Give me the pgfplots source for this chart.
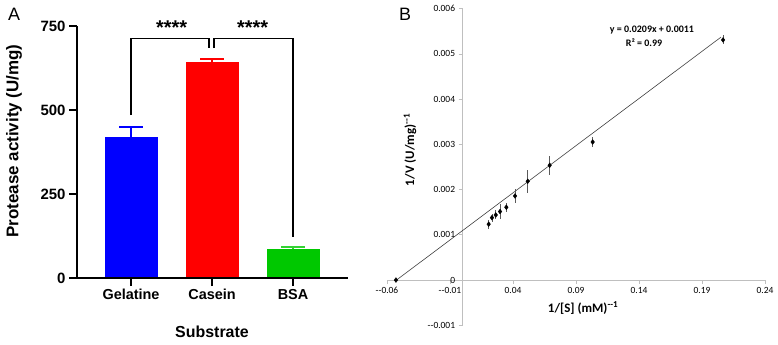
\documentclass[border=0pt]{standalone}
\usepackage{pgfplots}
\pgfplotsset{compat=1.18}
\usepackage{fontspec}
\setmainfont{Liberation Sans}
\newfontfamily\calfont{Carlito}
\definecolor{barblue}{RGB}{0,0,255}
\definecolor{barred}{RGB}{255,0,0}
\definecolor{bargreen}{RGB}{0,200,0}
\definecolor{axisgray}{RGB}{191,191,191}
\definecolor{errgray}{RGB}{90,90,90}
\begin{document}
\begin{tikzpicture}[x=1bp,y=1bp]
\node[font=\fontsize{18}{20}\selectfont] at (14,330) {A};
\node[font=\fontsize{18}{20}\selectfont] at (405,330) {B};
% ---------------- Panel A ----------------
\begin{axis}[
  at={(77bp,66bp)}, anchor=south west, scale only axis,
  width=271bp, height=252bp,
  xmin=-0.667, xmax=2.679, ymin=0, ymax=750,
  axis lines*=left, axis line style={line width=2.2bp, black},
  xtick={0,1,2}, xticklabels={Gelatine,Casein,BSA},
  ytick={0,250,500,750}, yticklabels={0,250,500,750},
  tick style={line width=2.2bp, black}, major tick length=8bp, tick align=outside,
  xticklabel style={font=\bfseries\fontsize{14.5}{16}\selectfont},
  yticklabel style={font=\bfseries\fontsize{15}{17}\selectfont},
  clip=false, axis on top,
]
\addplot[ybar, bar width=53bp, fill=barblue, draw=none,
  error bars/.cd, y dir=plus, y explicit,
  error bar style={line width=1.6bp, barblue},
  error mark options={rotate=90, mark size=12bp, line width=1.6bp, barblue}]
  coordinates {(0,420) +- (0,30)};
\addplot[ybar, bar width=53bp, fill=barred, draw=none,
  error bars/.cd, y dir=plus, y explicit,
  error bar style={line width=1.6bp, barred},
  error mark options={rotate=90, mark size=12bp, line width=1.6bp, barred}]
  coordinates {(1,642) +- (0,10)};
\addplot[ybar, bar width=53bp, fill=bargreen, draw=none,
  error bars/.cd, y dir=plus, y explicit,
  error bar style={line width=1.6bp, bargreen!80},
  error mark options={rotate=90, mark size=12bp, line width=1.6bp, bargreen!80}]
  coordinates {(2,85) +- (0,8)};
\draw[line width=1.3bp] (axis cs:0,485) |- (axis cs:0.963,712) -- (axis cs:0.963,684);
\draw[line width=1.3bp] (axis cs:1.025,684) |- (axis cs:2,712) -- (axis cs:2,122);
\node[anchor=base, font=\bfseries\fontsize{20}{22}\selectfont] at (axis cs:0.5,726) {****};
\node[anchor=base, font=\bfseries\fontsize{20}{22}\selectfont] at (axis cs:1.5,726) {****};
\end{axis}
\node[font=\bfseries\fontsize{16}{18}\selectfont] at (212,12) {Substrate};
\node[rotate=90, font=\bfseries\fontsize{17}{19}\selectfont] at (14,203) {Protease activity (U/mg)};
% ---------------- Panel B ----------------
\begin{axis}[
  at={(387bp,18.7bp)}, anchor=south west, scale only axis,
  width=378bp, height=316.6bp,
  xmin=-0.06, xmax=0.24, ymin=-0.001, ymax=0.006,
  scaled x ticks=false, scaled y ticks=false,
  axis lines=middle, axis line style={-, line width=1bp, axisgray},
  xtick={-0.06,-0.01,0.04,0.09,0.14,0.19,0.24},
  xticklabels={--0.06,--0.01,0.04,0.09,0.14,0.19,0.24},
  ytick={-0.001,0,0.001,0.002,0.003,0.004,0.005,0.006},
  yticklabels={--0.001,0,0.001,0.002,0.003,0.004,0.005,0.006},
  hide obscured x ticks=false, hide obscured y ticks=false,
  tick style={line width=0.8bp, axisgray}, major tick length=4bp, tick align=outside,
  ticklabel style={font=\calfont\fontsize{9.5}{11}\selectfont, black},
  clip=false,
]
\addplot[line width=0.6bp, color=black!75, mark=none]
  coordinates {(-0.0530,-0.00001) (0.2050,0.00537)};
\addplot[only marks, mark=diamond*, mark size=2.4bp, black,
  error bars/.cd, y dir=both, y explicit,
  error bar style={line width=0.8bp, errgray}, error mark=none]
  coordinates {
  (-0.0529,0.0) +- (0,0)
  (0.0207,0.001236) +- (0,0.0001)
  (0.0233,0.00138) +- (0,0.00009)
  (0.0263,0.00144) +- (0,0.0001)
  (0.0297,0.001515) +- (0,0.00016)
  (0.0347,0.00161) +- (0,0.0001)
  (0.0416,0.00186) +- (0,0.00015)
  (0.0517,0.002185) +- (0,0.00025)
  (0.0691,0.002538) +- (0,0.00021)
  (0.1032,0.003053) +- (0,0.0001)
  (0.2067,0.00531) +- (0,0.0001)
  };
\node[font=\calfont\bfseries\fontsize{10}{12}\selectfont] at (axis cs:0.1503,0.00553) {y = 0.0209x + 0.0011};
\node[font=\calfont\bfseries\fontsize{10}{12}\selectfont] at (axis cs:0.144,0.00524) {R² = 0.99};
\node[font=\calfont\bfseries\fontsize{13}{15}\selectfont] at (axis cs:0.0956,-0.000617) {1/[S] (mM)\textsuperscript{--1}};
\node[rotate=90, font=\calfont\bfseries\fontsize{13}{15}\selectfont] at (axis cs:-0.0417,0.002877) {1/V (U/mg)\textsuperscript{--1}};
\end{axis}
\pgfresetboundingbox
\path[use as bounding box] (0,0) rectangle (778,344);
\end{tikzpicture}
\end{document}
